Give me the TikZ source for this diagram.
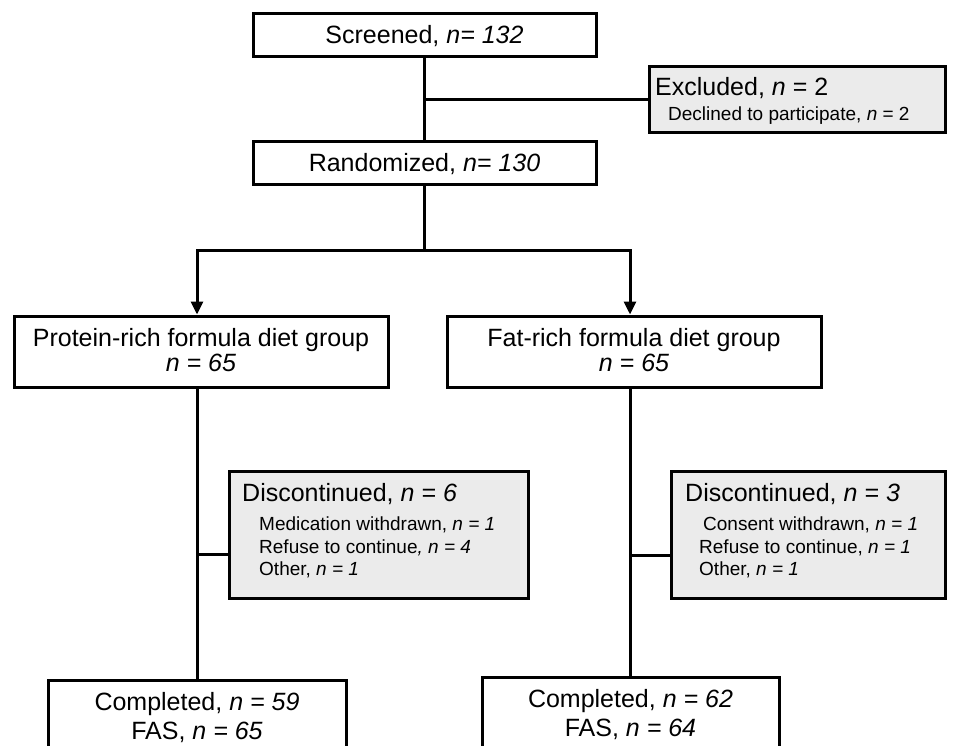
\documentclass[tikz,border=0pt]{standalone}
\usepackage{fontspec}
\setmainfont{Liberation Sans}
\usetikzlibrary{arrows.meta}
\definecolor{boxgray}{HTML}{EBEBEB}
\newcommand\bigtxt{\fontsize{25}{27}\selectfont}
\newcommand\smalltxt{\fontsize{19}{22}\selectfont}
\newcommand\itn{\textit{n}}
\tikzset{
  box/.style={draw, line width=3pt, fill=white, inner sep=0pt, align=center, font=\bigtxt},
  graybox/.style={draw, line width=3pt, fill=boxgray, inner sep=0pt},
  link/.style={line width=3pt},
  arr/.style={line width=3pt, -{Triangle[width=12pt,length=13pt]}},
  bigt/.style={anchor=base west, inner sep=0pt, font=\bigtxt},
  smallt/.style={anchor=base west, inner sep=0pt, font=\smalltxt},
  ctrt/.style={anchor=base, inner sep=0pt, font=\bigtxt},
}
\begin{document}
\begin{tikzpicture}[x=1pt,y=-1pt]
\useasboundingbox (0,0) rectangle (961,746);
\clip (0,0) rectangle (961,746);
\fill[white] (0,0) rectangle (961,746);

% boxes
\node[box, minimum width=343pt, minimum height=43pt] (scr) at (424.5,35) {};
\node[ctrt] (scrt) at (424.5,44) {Screened, \textit{n= 132}};
\node[graybox, minimum width=296pt, minimum height=66pt] (exc) at (797,99.5) {};
\node[bigt] (exct) at (655,96) {Excluded, \itn{} = 2};
\node[smallt] (excs) at (668,121) {Declined to participate, \itn{} = 2};
\node[box, minimum width=343pt, minimum height=43pt] (rnd) at (424.5,163.5) {};
\node[ctrt] (rndt) at (424.5,172) {Randomized, \textit{n= 130}};

\node[box, minimum width=374pt, minimum height=71pt] (gl) at (201,351.5) {};
\node[ctrt] (glt1) at (201,346) {Protein-rich formula diet group};
\node[ctrt] (glt2) at (201,371) {\textit{n = 65}};
\node[box, minimum width=374pt, minimum height=71pt] (gr) at (634,351.5) {};
\node[ctrt] (grt1) at (634,346) {Fat-rich formula diet group};
\node[ctrt] (grt2) at (634,371) {\textit{n = 65}};

\node[graybox, minimum width=299pt, minimum height=127pt] (dl) at (378.5,534.5) {};
\node[bigt] (dlt) at (242,501) {Discontinued, \textit{n = 6}};
\node[smallt] (dl1) at (259,530) {Medication withdrawn, \textit{n = 1}};
\node[smallt] (dl2) at (259,553) {Refuse to continue\textit{, n = 4}};
\node[smallt] (dl3) at (259,575) {Other, \textit{n = 1}};

\node[graybox, minimum width=274pt, minimum height=127pt] (dr) at (808,534.5) {};
\node[bigt] (drt) at (685,501) {Discontinued, \textit{n = 3}};
\node[smallt] (dr1) at (703,530) {Consent withdrawn, \textit{n = 1}};
\node[smallt] (dr2) at (699,553) {Refuse to continue, \textit{n = 1}};
\node[smallt] (dr3) at (699,575) {Other, \textit{n = 1}};

\node[box, minimum width=298pt, minimum height=76pt] (cl) at (197,718) {};
\node[ctrt] (clt1) at (197,710) {Completed, \textit{n = 59}};
\node[ctrt] (clt2) at (197,739) {FAS, \textit{n = 65}};
\node[box, minimum width=297pt, minimum height=76pt] (cr) at (630.5,715) {};
\node[ctrt] (crt1) at (630.5,707) {Completed, \textit{n = 62}};
\node[ctrt] (crt2) at (630.5,736) {FAS, \textit{n = 64}};

% connectors
\coordinate (bj) at (424.5,250);
\coordinate (jl) at (197,554);
\coordinate (jr) at (630,555);
\draw[link] (scr.south) -- (rnd.north);
\draw[link] (scr.south |- exc.west) -- (exc.west);
\draw[link] (rnd.south) -- (bj);
\draw[arr] (bj) -| (jl |- gl.north);
\draw[arr] (bj) -| (jr |- gr.north);
\draw[link] (gl.south -| jl) -- (cl.north -| jl);
\draw[link] (gr.south -| jr) -- (cr.north -| jr);
\draw[link] (jl) -- (jl -| dl.west);
\draw[link] (jr) -- (jr -| dr.west);
\end{tikzpicture}
\end{document}
